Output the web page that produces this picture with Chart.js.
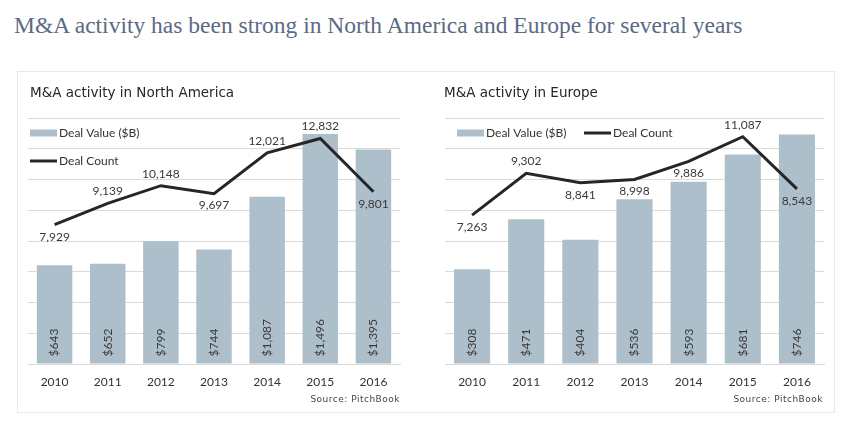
<!DOCTYPE html>
<html>
<head>
<meta charset="utf-8">
<script src="https://cdn.jsdelivr.net/npm/chart.js@4.4.0/dist/chart.umd.min.js"></script>
<style>
  body { margin: 0; background: #fff; width: 845px; height: 421px; overflow: hidden; position: relative; font-family: Lato, sans-serif; }
  #title { position: absolute; left: 14px; top: 12px; font-family: "Liberation Serif", serif; font-size: 23.5px; color: #5b6a84; white-space: nowrap; }
  #box { position: absolute; left: 17px; top: 71px; width: 816px; height: 340px; border: 1px solid #e8e8e8; }
  .sub { position: absolute; top: 83px; font-family: "DejaVu Sans", sans-serif; font-size: 13.5px; color: #262626; white-space: nowrap; line-height: 18px; }
  .src { position: absolute; top: 393px; font-family: "DejaVu Sans", sans-serif; font-size: 9px; letter-spacing: 0.5px; color: #444; white-space: nowrap; line-height: 12px; }
  canvas { position: absolute; top: 0; }
</style>
</head>
<body>
<div id="title">M&amp;A activity has been strong in North America and Europe for several years</div>
<div id="box"></div>
<canvas id="naChart" width="422" height="421" style="left:0"></canvas>
<canvas id="euChart" width="423" height="421" style="left:422px"></canvas>
<div class="sub" style="left:30px">M&amp;A activity in North America</div>
<div class="sub" style="left:444px">M&amp;A activity in Europe</div>
<div class="src" style="right:445px">Source: PitchBook</div>
<div class="src" style="right:22px">Source: PitchBook</div>
<script>
// data
const years = ['2010', '2011', '2012', '2013', '2014', '2015', '2016'];
const naDealValue = [643, 652, 799, 744, 1087, 1496, 1395];
const naDealCount = [7929, 9139, 10148, 9697, 12021, 12832, 9801];
const euDealValue = [308, 471, 404, 536, 593, 681, 746];
const euDealCount = [7263, 9302, 8841, 8998, 9886, 11087, 8543];

// axis ranges (no tick labels shown on the value axes)
const naValueMax = 1600, naValueStep = 200, naCountMax = 14000;
const euValueMax = 800, euValueStep = 100, euCountMax = 12000;

// where each count label sits: 1 below the line, -1 above
const naCountSide = [1, -1, -1, 1, -1, -1, 1];
const euCountSide = [1, -1, 1, 1, 1, -1, 1];

const barColor = '#adbfca';
const lineColor = '#262626';
const gridColor = '#dadada';

function fmt(v) { return v.toLocaleString('en-US'); }

const valueLabels = {
  id: 'valueLabels',
  afterDatasetsDraw(chart, args, opts) {
    const ctx = chart.ctx;
    ctx.save();
    ctx.font = '12px Lato';
    ctx.fillStyle = '#3a3a3a';
    const bars = chart.getDatasetMeta(0).data;
    bars.forEach((bar, i) => {
      ctx.save();
      ctx.translate(bar.x, bar.base - 7);
      ctx.rotate(-Math.PI / 2);
      ctx.textAlign = 'left';
      ctx.textBaseline = 'middle';
      ctx.fillText('$' + fmt(chart.data.datasets[0].data[i]), 0, 0);
      ctx.restore();
    });
    const pts = chart.getDatasetMeta(1).data;
    ctx.textAlign = 'center';
    ctx.textBaseline = 'middle';
    pts.forEach((p, i) => {
      ctx.fillText(fmt(chart.data.datasets[1].data[i]), p.x, p.y + opts.side[i] * 12);
    });
    ctx.restore();
  }
};

const panelLegend = {
  id: 'panelLegend',
  afterDraw(chart, args, opts) {
    const ctx = chart.ctx;
    const a = chart.chartArea;
    ctx.save();
    ctx.font = '12px Lato';
    ctx.textBaseline = 'middle';
    chart.data.datasets.forEach((ds, i) => {
      const x = a.left + opts.at[i][0];
      const y = a.top + opts.at[i][1];
      if (ds.type === 'bar') {
        ctx.fillStyle = ds.backgroundColor;
        ctx.fillRect(x, y - 3.5, 27, 7);
      } else {
        ctx.strokeStyle = ds.borderColor;
        ctx.lineWidth = 3;
        ctx.beginPath();
        ctx.moveTo(x, y);
        ctx.lineTo(x + 27, y);
        ctx.stroke();
      }
      ctx.fillStyle = '#333';
      ctx.fillText(ds.label, x + 29, y + 0.5);
    });
    ctx.restore();
  }
};

function makeChart(id, values, counts, valueMax, valueStep, countMax, side, pad, legendAt) {
  return new Chart(document.getElementById(id), {
    data: {
      labels: years,
      datasets: [
        {
          type: 'bar',
          label: 'Deal Value ($B)',
          data: values,
          backgroundColor: barColor,
          categoryPercentage: 1,
          barPercentage: 0.667,
          yAxisID: 'y',
          order: 2
        },
        {
          type: 'line',
          label: 'Deal Count',
          data: counts,
          borderColor: lineColor,
          borderWidth: 3,
          pointRadius: 0,
          tension: 0,
          yAxisID: 'y1',
          order: 1
        }
      ]
    },
    options: {
      responsive: false,
      animation: false,
      layout: { padding: pad },
      plugins: {
        legend: { display: false },
        tooltip: { enabled: false },
        valueLabels: { side: side },
        panelLegend: { at: legendAt }
      },
      scales: {
        x: {
          grid: { display: false, drawTicks: false },
          border: { color: gridColor },
          ticks: { color: '#333', font: { family: 'Lato', size: 12 }, padding: 11 }
        },
        y: {
          min: 0,
          max: valueMax,
          ticks: { display: false, stepSize: valueStep },
          grid: { color: gridColor, drawTicks: false },
          border: { display: false }
        },
        y1: {
          display: false,
          min: 0,
          max: countMax
        }
      }
    },
    plugins: [valueLabels, panelLegend]
  });
}

makeChart('naChart', naDealValue, naDealCount, naValueMax, naValueStep, naCountMax, naCountSide,
  { left: 28, right: 22, top: 118, bottom: 20.6 }, [[2, 15], [2, 43]]);
makeChart('euChart', euDealValue, euDealCount, euValueMax, euValueStep, euCountMax, euCountSide,
  { left: 23, right: 21, top: 118, bottom: 20.6 }, [[12, 15], [139, 15]]);
</script>
</body>
</html>
